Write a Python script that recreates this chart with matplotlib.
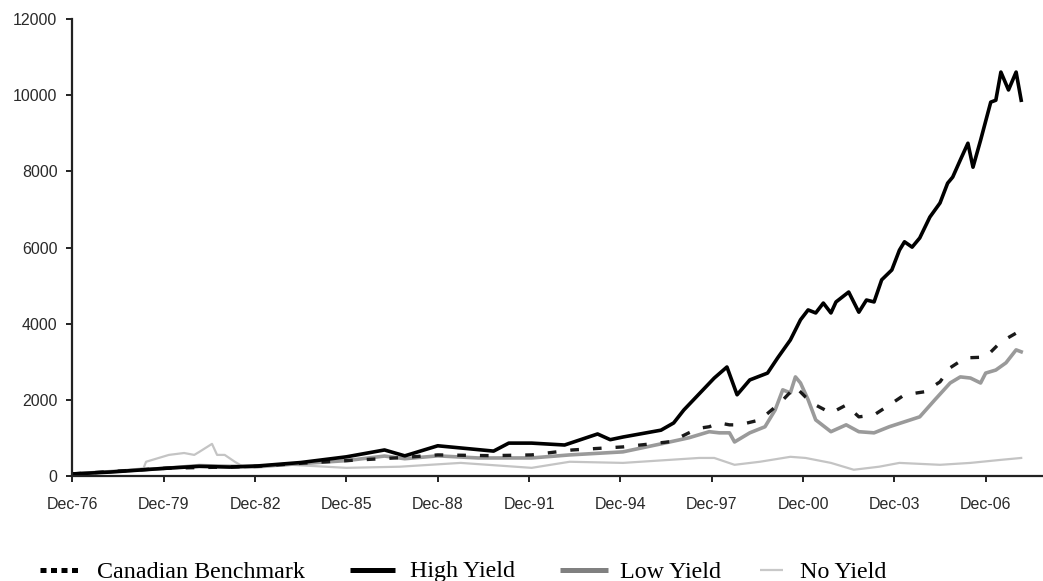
import matplotlib
matplotlib.use("Agg")
import matplotlib.pyplot as plt
from matplotlib.lines import Line2D

# months counted from Dec-76
hy_month = [0, 15, 37, 50, 62, 73, 90, 108, 123, 131, 144, 166, 172, 181, 194, 207, 212, 217,
            232, 237, 241, 247, 253, 258, 262, 267, 274, 278, 283, 287, 290, 293, 296, 299,
            301, 306, 310, 313, 316, 319, 323, 326, 328, 331, 334, 338, 342, 345, 347, 350,
            353, 355, 358, 362, 364, 366, 369, 372, 374]
hy_value = [50, 100, 200, 250, 230, 260, 350, 500, 680, 525, 790, 650, 860, 860, 810, 1100, 950, 1020,
            1200, 1390, 1730, 2150, 2570, 2860, 2130, 2520, 2700, 3100, 3570, 4100, 4360, 4280, 4540, 4280,
            4570, 4830, 4300, 4620, 4570, 5150, 5410, 5930, 6150, 6010, 6250, 6800, 7170, 7690, 7850, 8300,
            8740, 8110, 8820, 9820, 9870, 10610, 10140, 10610, 9870]

bm_month = [0, 37, 60, 73, 90, 108, 130, 144, 165, 181, 197, 217, 228, 236, 243, 247, 251, 255,
            259, 263, 271, 279, 285, 289, 293, 299, 305, 310, 316, 322, 328, 336, 342, 346,
            352, 360, 366, 372, 374]
bm_value = [50, 200, 230, 250, 330, 400, 480, 550, 530, 550, 680, 760, 840, 900, 1130, 1250, 1290, 1390,
            1340, 1340, 1470, 1920, 2340, 2070, 1860, 1650, 1860, 1550, 1600, 1860, 2130, 2210, 2470, 2840,
            3100, 3120, 3520, 3750, 3750]

ly_month = [0, 37, 50, 62, 73, 90, 108, 123, 131, 144, 160, 181, 196, 217, 232, 243, 251, 255,
            259, 261, 267, 273, 277, 280, 283, 285, 287, 290, 293, 299, 305, 310, 316, 322,
            328, 334, 340, 346, 350, 354, 358, 360, 364, 368, 372, 374]
ly_value = [50, 200, 270, 250, 250, 320, 400, 520, 450, 525, 470, 470, 550, 630, 840, 1000, 1160, 1130,
            1130, 890, 1130, 1290, 1730, 2260, 2180, 2600, 2440, 2000, 1470, 1160, 1340, 1160, 1130, 1290,
            1420, 1550, 2000, 2440, 2600, 2570, 2440, 2700, 2780, 2970, 3310, 3260]

ny_month = [0, 15, 28, 29, 38, 44, 48, 50, 55, 57, 60, 64, 68, 72, 86, 108, 129, 153, 181,
            196, 217, 247, 253, 261, 271, 283, 289, 299, 308, 318, 326, 342, 354, 366, 374]
ny_value = [50, 100, 200, 370, 550, 600, 550, 630, 840, 550, 550, 370, 210, 210, 290, 210, 240, 340, 210,
            370, 340, 470, 470, 290, 370, 500, 470, 340, 160, 240, 340, 290, 340, 420, 470]

tick_months = [0, 36, 72, 108, 144, 180, 216, 252, 288, 324, 360]
tick_labels = ["Dec-76", "Dec-79", "Dec-82", "Dec-85", "Dec-88", "Dec-91",
               "Dec-94", "Dec-97", "Dec-00", "Dec-03", "Dec-06"]

fig = plt.figure(figsize=(10.43, 5.81), dpi=100)
ax = fig.add_axes([0.0695, 0.181, 0.9305, 0.786])

ax.plot(ny_month, ny_value, color="#c4c4c4", lw=1.6)
ax.plot(ly_month, ly_value, color="#9a9a9a", lw=2.6)
ax.plot(bm_month, bm_value, color="#1a1a1a", lw=2.4, dashes=(2.6, 4.2))
ax.plot(hy_month, hy_value, color="#000000", lw=2.6)

ax.set_xlim(0, 382.6)
ax.set_ylim(0, 12000)
ax.set_yticks(range(0, 12001, 2000))
ax.set_xticks(tick_months)
ax.set_xticklabels(tick_labels)

for side in ["top", "right"]:
    ax.spines[side].set_visible(False)
for side in ["left", "bottom"]:
    ax.spines[side].set_linewidth(1.6)
    ax.spines[side].set_color("#222222")

ax.tick_params(axis="y", direction="out", length=4.3, width=1.4, pad=6.5,
               labelsize=11.5, labelcolor="#2a2a2a", color="#222222")
ax.tick_params(axis="x", direction="out", length=4.5, width=1.4, pad=11,
               labelsize=11.5, labelcolor="#2a2a2a", color="#222222")
for lab in ax.get_xticklabels() + ax.get_yticklabels():
    lab.set_family("Liberation Sans")

# legend row along the bottom
legend_items = [
    ("Canadian Benchmark", 40, 82, dict(color="black", lw=3.6, dashes=(1.2, 0.9), solid_capstyle="butt", dash_capstyle="butt")),
    ("High Yield", 350, 395, dict(color="black", lw=3.6, solid_capstyle="butt")),
    ("Low Yield", 560, 608, dict(color="#808080", lw=3.6, solid_capstyle="butt")),
    ("No Yield", 760, 783, dict(color="#c8c8c8", lw=1.6, solid_capstyle="butt")),
]
text_x = [97, 410, 620, 800]
W, H = 1043.0, 581.0
for (label, x0, x1, style), tx in zip(legend_items, text_x):
    fig.add_artist(Line2D([x0 / W, x1 / W], [11.5 / H, 11.5 / H], transform=fig.transFigure, **style))
    fig.text(tx / W, 3.5 / H, label, family="Liberation Serif", fontsize=17.3,
             ha="left", va="baseline", color="black")

fig.savefig("out.png", dpi=100)
